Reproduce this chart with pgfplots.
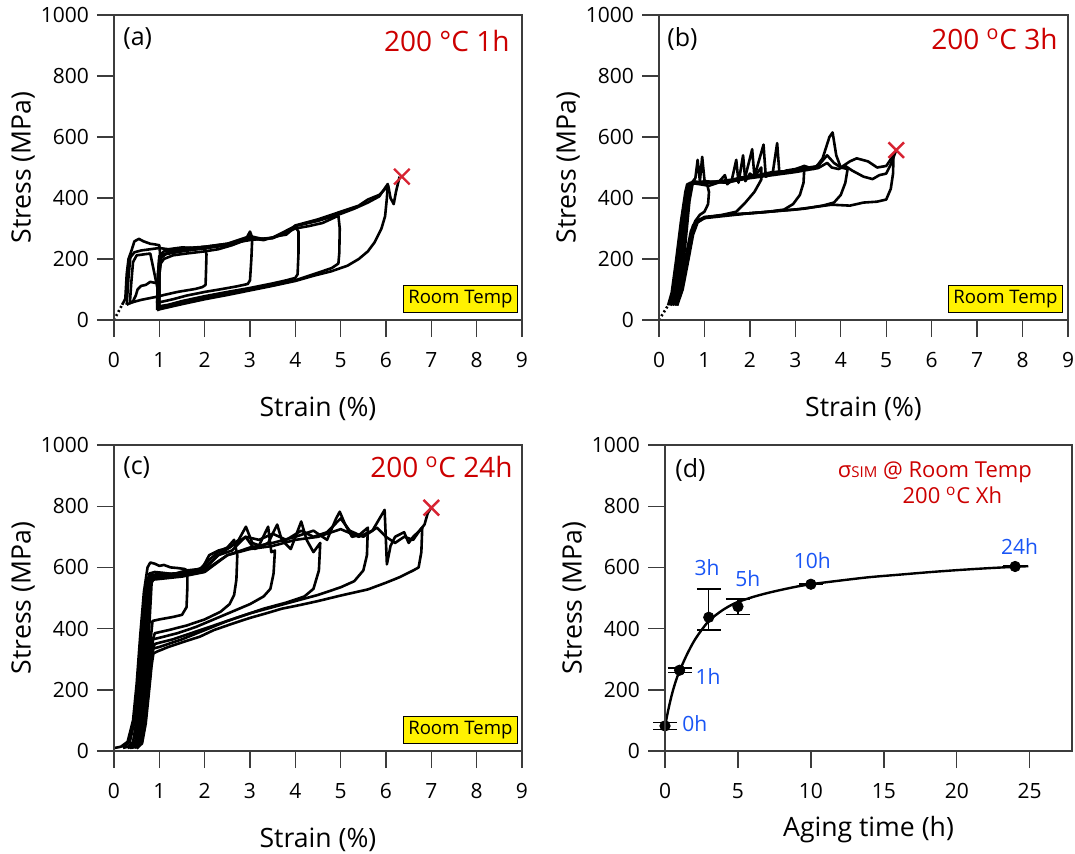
\documentclass[border=0pt]{standalone}
\usepackage{fontspec}
\setmainfont{Open Sans}
\usepackage{pgfplots}
\pgfplotsset{compat=1.18}
\definecolor{ttred}{RGB}{204,0,0}
\definecolor{xred}{RGB}{215,35,50}
\definecolor{lblue}{RGB}{25,85,245}
\definecolor{axgray}{RGB}{60,60,60}
\pgfplotsset{
 base/.style={scale only axis, ymin=0, ymax=1000, ytick={0,200,...,1000}, clip=false,
  axis lines=box, tick pos=left, tick align=outside, major tick length=8.5pt,
  axis line style={axgray, line width=0.7pt}, tick style={axgray, line width=0.7pt},
  tick label style={font=\fontsize{10.5}{12}\selectfont},
  xticklabel style={yshift=-4pt},
  yticklabel style={xshift=-0.5pt},
  label style={font=\fontsize{13.3}{15}\selectfont},
  /pgf/number format/assume math mode=true,
  /pgf/number format/1000 sep={},
  ylabel={Stress (MPa)},
 },
 strain/.style={base, width=204pt, height=152.5pt, xmin=0, xmax=9, xtick={0,...,9},
  xlabel={Strain (\%)},
  xlabel style={at={(axis description cs:0.5,-0.2900)}, anchor=center},
  ylabel style={at={(axis description cs:-0.2230,0.5)}, anchor=center},
 },
 curve/.style={black, line width=1.3pt, line join=round},
}
\tikzset{
 rt/.style={draw=black, fill=yellow, line width=0.6pt, inner sep=0pt, minimum width=57pt, minimum height=13.5pt, font=\fontsize{9.3}{10}\selectfont, anchor=south east},
 pl/.style={font=\fontsize{12.5}{13}\selectfont, inner sep=0pt, anchor=north west},
 tt/.style={font=\fontsize{14}{15}\selectfont, text=ttred, inner sep=0pt, anchor=north east},
 xm/.style={xred, only marks, mark=x, mark size=5.5pt, mark options={line width=1.2pt}},
}
\begin{document}
\begin{tikzpicture}
\path[use as bounding box] (0,0) rectangle (537.5pt,426.5pt);
% ---------------- (a)
\begin{axis}[strain, at={(57pt,266.5pt)}, anchor=south west]
\addplot[black, line width=1.3pt, dash pattern=on 1pt off 1.3pt] coordinates {(0,0) (0.18,50)};
\addplot[curve] coordinates {(0.18,50) (0.25,70) (0.28,150) (0.32,200) (0.38,225) (0.45,258) (0.55,266) (0.65,258) (0.8,250) (0.9,248) (1.0,245) (1.02,210) (1.01,160) (0.98,128) (0.9,122) (0.8,125) (0.7,115) (0.6,112) (0.52,100) (0.48,80) (0.42,62) (0.35,55) (0.28,50)};
\addplot[curve] coordinates {(0.28,50) (0.32,140) (0.36,205) (0.45,222) (0.6,228) (0.8,232) (1.0,236) (1.2,232) (1.5,238) (1.8,236) (2.0,240) (2.04,215) (2.03,160) (2.02,115) (1.95,108) (1.8,102) (1.6,97) (1.4,92) (1.25,87) (1.1,82) (1.0,78) (0.8,72) (0.6,66) (0.45,60) (0.35,55)};
\addplot[curve] coordinates {(0.35,55) (0.38,120) (0.42,190) (0.5,212) (0.8,218) (1.0,75) (1.0,150) (1.03,185) (1.1,200) (1.3,212) (1.6,218) (2.0,225) (2.3,232) (2.6,245) (2.9,262) (3.0,290) (3.05,270) (3.03,200) (3.0,130) (2.95,118) (2.7,110) (2.4,102) (2.0,92) (1.6,80) (1.3,68) (1.0,58) (0.95,55)};
\addplot[curve] coordinates {(0.95,55) (0.97,150) (1.0,200) (1.1,215) (1.5,225) (2.0,235) (2.5,245) (3.0,268) (3.3,262) (3.6,275) (3.8,280) (4.0,305) (4.07,290) (4.07,220) (4.05,150) (4.0,138) (3.8,130) (3.5,120) (3.0,105) (2.5,92) (2.0,78) (1.5,62) (1.2,50) (1.0,45)};
\addplot[curve] coordinates {(1.0,45) (1.0,150) (1.02,200) (1.15,218) (1.5,228) (2.0,238) (2.5,248) (3.0,265) (3.5,268) (4.0,300) (4.3,308) (4.6,318) (4.95,342) (4.98,300) (4.97,220) (4.95,185) (4.8,170) (4.5,155) (4.0,130) (3.5,115) (3.0,100) (2.5,86) (2.0,72) (1.5,56) (1.2,45) (1.0,38)};
\addplot[curve] coordinates {(1.0,38) (1.0,150) (1.03,205) (1.2,222) (1.6,232) (2.0,240) (2.5,250) (3.0,262) (3.5,270) (4.0,308) (4.5,325) (5.0,348) (5.3,365) (5.6,385) (5.85,405) (6.04,446) (6.02,400) (5.98,340) (5.9,300) (5.75,255) (5.6,225) (5.4,200) (5.15,178) (4.8,160) (4.4,145) (4.0,128) (3.5,112) (3.0,97) (2.5,82) (2.0,68) (1.5,52) (1.0,35) (0.95,32)};
\addplot[curve] coordinates {(0.95,32) (0.97,150) (1.0,210) (1.1,225) (1.5,235) (2.0,240) (2.5,250) (3.0,275) (3.3,265) (3.5,270) (3.8,285) (4.0,310) (4.5,330) (5.0,355) (5.4,375) (5.6,395) (5.85,410) (6.05,440) (6.1,400) (6.17,380) (6.22,420) (6.3,470)};
\addplot[xm] coordinates {(6.35,470)};
\node[pl] at (rel axis cs:0,1) [xshift=4.5pt, yshift=-6pt] {(a)};
\node[tt] at (rel axis cs:1,1) [xshift=-6pt, yshift=-7.5pt] {200 °C 1h};
\node[rt] at (rel axis cs:1,0) [xshift=-2pt, yshift=3.5pt] {Room Temp};
\end{axis}
% ---------------- (b)
\begin{axis}[strain, width=204.5pt, at={(329.5pt,266.5pt)}, anchor=south west,
  ylabel style={at={(axis description cs:-0.2225,0.5)}}]
\addplot[black, line width=1.3pt, dash pattern=on 1pt off 1.3pt] coordinates {(0,0) (0.2,48)};
\addplot[curve] coordinates {(0.2,48) (0.28,90) (0.38,200) (0.48,320) (0.58,420) (0.62,445) (0.72,450) (0.8,465) (0.85,525) (0.9,455) (0.95,535) (1.0,460) (1.05,450) (1.1,420) (1.08,380) (1.0,355) (0.9,345) (0.8,325) (0.7,290) (0.62,230) (0.5,150) (0.38,80) (0.25,48)};
\addplot[curve] coordinates {(0.25,48) (0.33,100) (0.43,210) (0.53,330) (0.62,430) (0.68,450) (0.9,445) (1.1,440) (1.3,450) (1.45,475) (1.5,445) (1.6,458) (1.7,525) (1.75,450) (1.85,540) (1.9,455) (2.0,480) (2.1,470) (2.25,500) (2.25,460) (2.1,420) (1.9,385) (1.7,355) (1.4,345) (1.1,338) (0.9,330) (0.75,310) (0.66,250) (0.55,160) (0.42,85) (0.3,48)};
\addplot[curve] coordinates {(0.3,48) (0.37,100) (0.47,210) (0.57,340) (0.66,440) (0.8,450) (1.0,448) (1.3,455) (1.6,460) (1.9,470) (2.05,560) (2.1,470) (2.3,575) (2.35,470) (2.5,480) (2.6,580) (2.65,480) (2.8,490) (3.0,495) (3.2,505) (3.18,450) (3.1,410) (2.95,380) (2.75,362) (2.4,355) (2.0,350) (1.5,345) (1.0,335) (0.8,318) (0.7,270) (0.6,180) (0.47,90) (0.35,48)};
\addplot[curve] coordinates {(0.35,48) (0.42,110) (0.52,230) (0.62,360) (0.7,445) (1.0,455) (1.5,450) (2.0,470) (2.5,485) (3.0,490) (3.2,505) (3.4,495) (3.5,510) (3.6,530) (3.75,600) (3.82,615) (3.9,540) (4.0,500) (4.15,495) (4.1,450) (4.0,410) (3.85,385) (3.6,375) (3.2,365) (2.8,360) (2.2,352) (1.5,345) (1.0,338) (0.82,322) (0.72,280) (0.62,190) (0.5,95) (0.38,48)};
\addplot[curve] coordinates {(0.38,48) (0.45,110) (0.55,240) (0.65,380) (0.72,450) (1.0,452) (1.5,455) (2.0,470) (2.5,480) (3.0,490) (3.3,500) (3.5,505) (3.7,540) (3.85,515) (4.0,500) (4.2,520) (4.35,530) (4.6,520) (4.8,500) (5.0,505) (5.16,540) (5.15,480) (5.1,430) (5.0,395) (4.8,388) (4.5,385) (4.2,375) (3.8,378) (3.5,372) (3.0,362) (2.5,356) (2.0,350) (1.5,342) (1.0,334) (0.85,320) (0.75,280) (0.65,200) (0.52,100) (0.4,48)};
\addplot[curve] coordinates {(0.4,48) (0.48,120) (0.58,250) (0.67,390) (0.75,455) (1.0,450) (1.5,452) (2.0,465) (2.5,475) (3.0,485) (3.5,498) (3.7,515) (3.8,500) (3.95,495) (4.1,505) (4.25,490) (4.5,470) (4.7,462) (4.85,475) (5.0,480) (5.1,510) (5.22,557)};
\addplot[xm] coordinates {(5.22,557)};
\node[pl] at (rel axis cs:0,1) [xshift=4pt, yshift=-6pt] {(b)};
\node[tt] at (rel axis cs:1,1) [xshift=-5pt, yshift=-6.5pt] {200 \textsuperscript{o}C 3h};
\node[rt] at (rel axis cs:1,0) [xshift=-2.5pt, yshift=3.5pt] {Room Temp};
\end{axis}
% ---------------- (c)
\begin{axis}[strain, height=153pt, at={(57pt,51pt)}, anchor=south west,
  xlabel style={at={(axis description cs:0.5,-0.2890)}}]
\addplot[curve] coordinates {(0.02,10) (0.15,14) (0.3,30) (0.42,100) (0.5,220) (0.58,380) (0.66,520) (0.74,600) (0.8,616) (0.9,612) (1.0,605) (1.1,608) (1.25,600) (1.4,598) (1.55,595) (1.62,590) (1.62,540) (1.6,470) (1.5,445) (1.3,438) (1.0,430) (0.85,425) (0.82,380) (0.76,280) (0.68,150) (0.58,60) (0.45,20) (0.2,10)};
\addplot[curve] coordinates {(0.2,10) (0.35,30) (0.47,110) (0.55,240) (0.62,390) (0.7,530) (0.78,580) (0.9,585) (1.1,582) (1.3,578) (1.6,590) (1.9,595) (2.1,625) (2.3,650) (2.5,665) (2.65,690) (2.72,640) (2.7,560) (2.65,510) (2.55,480) (2.35,455) (2.0,430) (1.6,410) (1.2,395) (0.9,385) (0.85,360) (0.79,280) (0.7,150) (0.6,55) (0.48,18) (0.3,10)};
\addplot[curve] coordinates {(0.3,10) (0.42,30) (0.52,120) (0.6,260) (0.67,400) (0.74,540) (0.8,575) (1.0,578) (1.3,580) (1.6,582) (1.95,598) (2.1,640) (2.3,655) (2.55,665) (2.75,690) (2.91,733) (3.05,680) (3.2,672) (3.4,733) (3.47,650) (3.55,655) (3.52,580) (3.45,530) (3.3,505) (3.0,480) (2.6,455) (2.2,430) (1.8,405) (1.4,385) (1.0,370) (0.86,365) (0.81,300) (0.72,160) (0.62,60) (0.5,18) (0.35,10)};
\addplot[curve] coordinates {(0.35,10) (0.47,32) (0.57,130) (0.64,270) (0.7,410) (0.76,540) (0.82,570) (1.2,575) (1.6,580) (2.0,595) (2.3,640) (2.6,655) (2.9,700) (3.1,660) (3.4,680) (3.6,740) (3.7,690) (3.9,660) (4.13,750) (4.25,690) (4.4,650) (4.55,680) (4.52,590) (4.4,530) (4.2,505) (3.8,485) (3.3,465) (2.8,440) (2.3,415) (1.8,390) (1.3,365) (0.9,350) (0.85,330) (0.8,260) (0.72,150) (0.63,55) (0.52,15) (0.38,10)};
\addplot[curve] coordinates {(0.38,10) (0.5,35) (0.6,140) (0.66,280) (0.72,420) (0.77,540) (0.84,565) (1.5,575) (2.0,590) (2.5,640) (3.0,665) (3.5,680) (4.0,700) (4.4,720) (4.7,690) (4.9,760) (4.98,782) (5.1,740) (5.25,700) (5.4,705) (5.6,730) (5.58,640) (5.5,590) (5.3,555) (5.0,535) (4.5,510) (4.0,490) (3.5,470) (3.0,450) (2.5,425) (2.0,395) (1.5,365) (1.0,340) (0.87,335) (0.83,300) (0.78,220) (0.7,110) (0.6,35) (0.45,10)};
\addplot[curve] coordinates {(0.45,10) (0.55,40) (0.63,150) (0.69,290) (0.74,430) (0.79,545) (0.86,560) (1.5,570) (2.0,585) (2.5,640) (3.0,660) (3.5,670) (4.0,690) (4.5,700) (5.0,725) (5.4,700) (5.7,720) (5.97,788) (6.02,610) (6.1,670) (6.2,700) (6.4,715) (6.5,680) (6.6,700) (6.74,720) (6.8,730) (6.78,650) (6.72,600) (6.6,590) (6.3,568) (6.0,550) (5.6,528) (5.0,508) (4.5,490) (4.1,477) (3.7,465) (3.36,450) (3.0,435) (2.63,417) (2.2,395) (1.9,374) (1.5,355) (1.2,340) (0.95,325) (0.87,319) (0.83,280) (0.77,190) (0.7,90) (0.62,25) (0.5,8)};
\addplot[curve] coordinates {(0.5,8) (0.6,40) (0.68,160) (0.74,300) (0.79,440) (0.83,550) (0.9,568) (1.5,580) (2.0,600) (2.3,640) (2.6,670) (2.91,700) (3.2,690) (3.5,710) (3.8,690) (4.13,720) (4.4,700) (4.7,715) (5.0,760) (5.2,720) (5.5,700) (5.8,730) (6.0,700) (6.2,680) (6.4,700) (6.6,690) (6.74,720) (6.85,740) (6.92,777) (7.0,795)};
\addplot[xm] coordinates {(7.0,795)};
\node[pl] at (rel axis cs:0,1) [xshift=4.5pt, yshift=-5.5pt] {(c)};
\node[tt] at (rel axis cs:1,1) [xshift=-4.5pt, yshift=-5.5pt] {200 \textsuperscript{o}C 24h};
\node[rt] at (rel axis cs:1,0) [xshift=-2pt, yshift=3.5pt] {Room Temp};
\end{axis}
% ---------------- (d)
\begin{axis}[base, width=203.5pt, height=153pt, at={(332.5pt,51pt)}, anchor=south west,
  xmin=0, xmax=27.9, xtick={0,5,...,25}, xlabel={Aging time (h)},
  xlabel style={at={(axis description cs:0.5,-0.2580)}, anchor=center},
  ylabel style={at={(axis description cs:-0.2236,0.5)}, anchor=center}]
\addplot[black, line width=1.2pt, smooth] coordinates {(0,80) (0.25,140) (0.5,190) (0.75,230) (1,262) (1.5,315) (2,360) (2.5,395) (3,425) (3.5,445) (4,462) (4.5,476) (5,487) (6,503) (7,516) (8,527) (9,537) (10,545) (12,557) (14,568) (16,576) (18,584) (20,591) (22,597) (24,602) (24.9,604)};
\addplot[black, only marks, mark=*, mark size=2.6pt,
  error bars/.cd, y dir=both, y explicit, error mark=|,
  error mark options={black, mark size=6pt, line width=0.7pt},
  error bar style={black, line width=0.7pt}]
  coordinates {(0,82) +- (0,11) (1,264) +- (0,7) (3,437) += (0,93) -= (0,41) (5,472) += (0,25) -= (0,26) (10,545) +- (0,1) (24,603) +- (0,1)};
\node[pl] at (rel axis cs:0,1) [xshift=5pt, yshift=-6.5pt] {(d)};
\node[text=ttred, font=\fontsize{11}{12}\selectfont, inner sep=0pt] at (axis cs:18.5,912) {σ{\fontsize{7.5}{8}\selectfont SIM} @ Room Temp};
\node[text=ttred, font=\fontsize{11}{12}\selectfont, inner sep=0pt] at (axis cs:19.7,835) {200 \textsuperscript{o}C Xh};
\begin{scope}[every node/.style={text=lblue, font=\fontsize{10.5}{11}\selectfont, inner sep=0pt}]
\node at (axis cs:2.05,91) {0h};
\node at (axis cs:2.95,242) {1h};
\node at (axis cs:2.88,598) {3h};
\node at (axis cs:5.68,562) {5h};
\node at (axis cs:10.1,621) {10h};
\node at (axis cs:24.3,667) {24h};
\end{scope}
\end{axis}
% frames
\begin{scope}[axgray, line width=0.8pt]
\draw (57pt,266.5pt) rectangle ++(204pt,152.5pt);
\draw (329.5pt,266.5pt) rectangle ++(204.5pt,152.5pt);
\draw (57pt,51pt) rectangle ++(204pt,153pt);
\draw (332.5pt,51pt) rectangle ++(203.5pt,153pt);
\end{scope}
\end{tikzpicture}
\end{document}
